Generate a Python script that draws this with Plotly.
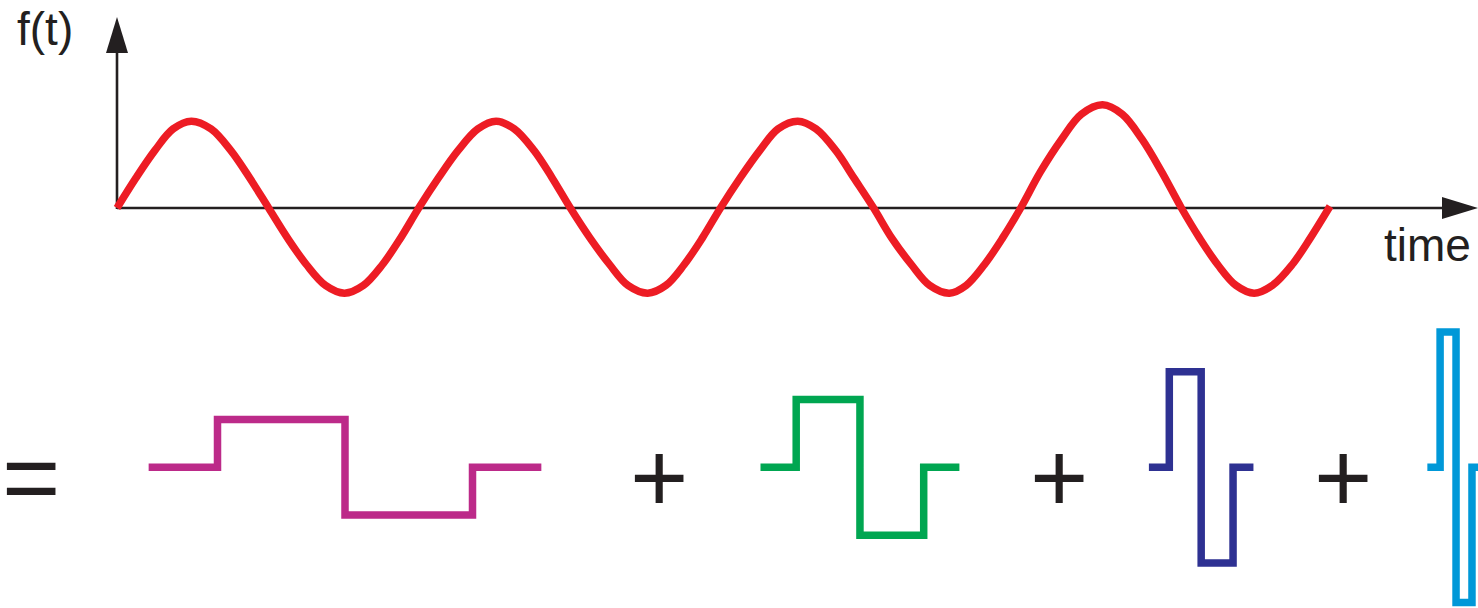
import plotly.graph_objects as go

W, H = 1478, 608

# ---------------- data: the signal f(t) ----------------
wave_t = [0.0, 0.125, 0.25, 0.37, 0.49, 0.62, 0.75, 0.875,
          1.0, 1.125, 1.25, 1.375, 1.5, 1.625, 1.75, 1.87,
          1.99, 2.12, 2.25, 2.38, 2.5, 2.62, 2.75, 2.87,
          2.99, 3.12, 3.25, 3.37, 3.5, 3.62, 3.74, 3.86,
          3.98, 4.11, 4.24, 4.36, 4.49, 4.61, 4.74, 4.86,
          4.99, 5.11, 5.24, 5.36, 5.49, 5.60, 5.72, 5.84,
          5.96, 6.09, 6.23, 6.36, 6.5, 6.63, 6.76, 6.89,
          7.02, 7.14, 7.26, 7.38, 7.5, 7.62, 7.75, 7.87, 8.0]
wave_f = [0.0, 0.35, 0.67, 0.92, 1.01, 0.92, 0.67, 0.35,
          0.0, -0.35, -0.66, -0.90, -0.99, -0.90, -0.66, -0.35,
          0.0, 0.35, 0.67, 0.92, 1.01, 0.92, 0.67, 0.35,
          0.0, -0.35, -0.66, -0.90, -0.99, -0.90, -0.66, -0.35,
          0.0, 0.35, 0.67, 0.92, 1.01, 0.92, 0.67, 0.35,
          0.0, -0.35, -0.66, -0.90, -0.99, -0.90, -0.66, -0.35,
          0.0, 0.42, 0.80, 1.09, 1.20, 1.09, 0.80, 0.42,
          0.0, -0.35, -0.66, -0.90, -0.99, -0.90, -0.66, -0.35, 0.02]

# ---------------- data: Haar-like wavelets ----------------
wavelet_width = [1.0, 0.5, 0.25, 0.125]      # support length
wavelet_amp = [1.0, 1.42, 2.0, 2.83]         # step height
wavelet_pad = [0.27, 0.14, 0.08, 0.05]       # flat stub on each side
wavelet_colors = ["#BC2A89", "#00A651", "#2E3192", "#0098D8"]

# ---------------- labels ----------------
y_label = "f(t)"
x_label = "time"
operators = ["=", "+", "+", "+"]

# ---------------- layout geometry (pixels) ----------------
INK = "#231F20"
RED = "#ED1C24"
T0_PX, T_PX = 117.0, 151.625        # t=0 position and px per time unit
F0_PX, F_PX = 208.0, 86.0           # f=0 position and px per unit
W_SUPPORT_PX = [217.5, 796.2, 1169.3, 1440.1]
W_UNIT_PX = 255.0
W_BASE_PX, W_AMP_PX = 467.3, 47.8
OP_X_PX = [31, 659, 1059, 1343]
OP_Y_PX = 477


def px(x):
    return x / W


def py(y):
    return 1 - y / H


fig = go.Figure()

fig.add_trace(go.Scatter(
    x=wave_t, y=wave_f, mode="lines",
    line=dict(color=RED, width=7.5, shape="spline", smoothing=1.0, simplify=False),
    hoverinfo="skip", showlegend=False, xaxis="x", yaxis="y"))

for k in range(len(wavelet_width)):
    w, a, p = wavelet_width[k], wavelet_amp[k], wavelet_pad[k]
    fig.add_trace(go.Scatter(
        x=[-p, 0, w / 2, w, w + p],
        y=[0, a, -a, 0, 0],
        mode="lines",
        line=dict(color=wavelet_colors[k], width=7.5, shape="hv"),
        hoverinfo="skip", showlegend=False,
        xaxis="x%d" % (k + 2), yaxis="y2"))

hidden = dict(visible=False, showgrid=False, zeroline=False, fixedrange=True)
layout = dict(
    width=W, height=H,
    margin=dict(l=0, r=0, t=0, b=0, pad=0),
    paper_bgcolor="white", plot_bgcolor="white",
    showlegend=False,
    xaxis=dict(range=[(0 - T0_PX) / T_PX, (W - T0_PX) / T_PX], domain=[0, 1], **hidden),
    yaxis=dict(range=[(F0_PX - H) / F_PX, F0_PX / F_PX], domain=[0, 1], **hidden),
    yaxis2=dict(range=[(W_BASE_PX - H) / W_AMP_PX, W_BASE_PX / W_AMP_PX],
                overlaying="y", **hidden),
)
for k, s in enumerate(W_SUPPORT_PX):
    layout["xaxis%d" % (k + 2)] = dict(
        range=[(0 - s) / W_UNIT_PX, (W - s) / W_UNIT_PX], overlaying="x", **hidden)
fig.update_layout(**layout)

# axis lines with arrow heads
shapes = [
    dict(type="line", xref="paper", yref="paper",
         x0=px(T0_PX), x1=px(1443), y0=py(F0_PX), y1=py(F0_PX),
         line=dict(color=INK, width=2.6), layer="below"),
    dict(type="line", xref="paper", yref="paper",
         x0=px(T0_PX), x1=px(T0_PX), y0=py(F0_PX + 1), y1=py(52),
         line=dict(color=INK, width=2.6), layer="below"),
    dict(type="path", xref="paper", yref="paper",
         path="M %f,%f L %f,%f L %f,%f Z" % (px(1442), py(197), px(1442), py(219), px(1478), py(208)),
         fillcolor=INK, line=dict(width=0), layer="below"),
    dict(type="path", xref="paper", yref="paper",
         path="M %f,%f L %f,%f L %f,%f Z" % (px(106), py(53), px(128), py(53), px(117), py(17)),
         fillcolor=INK, line=dict(width=0), layer="below"),
]
fig.update_layout(shapes=shapes)

FONT = "Liberation Sans, Arial, sans-serif"
ann = [
    dict(text=y_label, x=px(15), y=py(29), xref="paper", yref="paper",
         xanchor="left", yanchor="middle", showarrow=False,
         font=dict(family=FONT, size=46, color=INK)),
    dict(text=x_label, x=px(1382), y=py(245), xref="paper", yref="paper",
         xanchor="left", yanchor="middle", showarrow=False,
         font=dict(family=FONT, size=46, color=INK)),
]
for op, xo in zip(operators, OP_X_PX):
    ann.append(dict(text=op, x=px(xo), y=py(OP_Y_PX), xref="paper", yref="paper",
                    xanchor="center", yanchor="middle", showarrow=False,
                    font=dict(family=FONT, size=100, color=INK)))
fig.update_layout(annotations=ann)

fig.write_html("out.html", config={"displayModeBar": False, "staticPlot": True},
               post_script="document.body.style.margin='0px';")
